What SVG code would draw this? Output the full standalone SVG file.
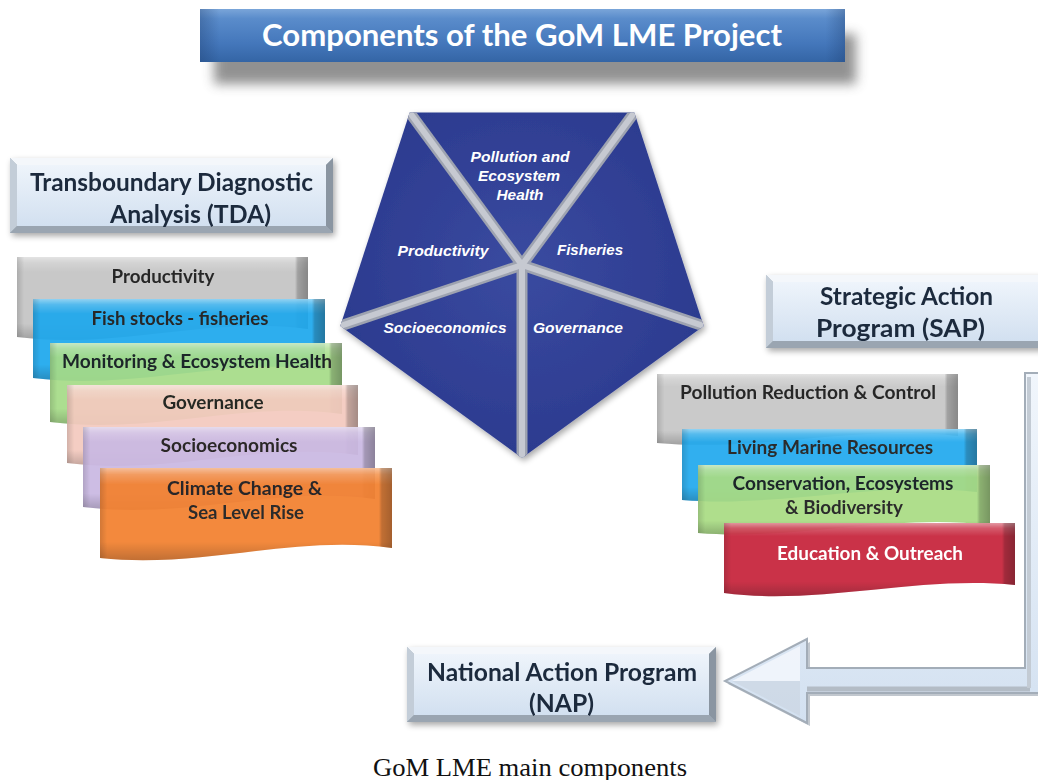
<svg xmlns="http://www.w3.org/2000/svg" xmlns:xlink="http://www.w3.org/1999/xlink" width="1038" height="780" viewBox="0 0 1038 780">
  <style>
    .lbl { font-family: Lato, "Open Sans", "Liberation Sans", sans-serif; font-weight: 700; fill: #1b1b1b; }
    .box-lbl { font-family: Lato, "Open Sans", "Liberation Sans", sans-serif; font-weight: 700; fill: #1c2a3c; font-size: 25px; }
    .pent-lbl { font-family: "Liberation Sans", Arial, sans-serif; font-weight: 700; font-style: italic; fill: #ffffff; font-size: 14px; text-anchor: middle; }
    .caption { font-family: "Liberation Serif", "Times New Roman", serif; font-size: 26px; fill: #111111; }
    .divider-back { stroke: #9ea3b0; stroke-width: 11; }
    .divider-front { stroke: #c6c9d1; stroke-width: 6; }
  </style>
  <defs>
    <linearGradient id="titleGrad" x1="0" y1="0" x2="0" y2="1">
      <stop offset="0" stop-color="#7aa5d9"/>
      <stop offset="0.18" stop-color="#5a8ccb"/>
      <stop offset="0.65" stop-color="#4477bb"/>
      <stop offset="1" stop-color="#3465a5"/>
    </linearGradient>
    <linearGradient id="titleEdge" x1="0" y1="0" x2="1" y2="0">
      <stop offset="0" stop-color="#1f3f70" stop-opacity="0.35"/>
      <stop offset="0.03" stop-color="#1f3f70" stop-opacity="0"/>
      <stop offset="0.97" stop-color="#1f3f70" stop-opacity="0"/>
      <stop offset="1" stop-color="#1f3f70" stop-opacity="0.35"/>
    </linearGradient>
    <linearGradient id="faceGrad" x1="0" y1="0" x2="0" y2="1">
      <stop offset="0" stop-color="#eef4fb"/>
      <stop offset="1" stop-color="#d2e0f0"/>
    </linearGradient>
    <radialGradient id="pentGrad" cx="522" cy="267" r="200" gradientUnits="userSpaceOnUse">
      <stop offset="0" stop-color="#3a4aa0"/>
      <stop offset="1" stop-color="#2b3a8e"/>
    </radialGradient>
    <linearGradient id="shadeV" x1="0" y1="0" x2="0" y2="1">
      <stop offset="0" stop-color="#ffffff" stop-opacity="0.5"/>
      <stop offset="0.07" stop-color="#ffffff" stop-opacity="0.2"/>
      <stop offset="0.18" stop-color="#ffffff" stop-opacity="0"/>
      <stop offset="0.8" stop-color="#000000" stop-opacity="0"/>
      <stop offset="1" stop-color="#000000" stop-opacity="0.22"/>
    </linearGradient>
    <linearGradient id="shadeH" x1="0" y1="0" x2="1" y2="0">
      <stop offset="0" stop-color="#000000" stop-opacity="0.15"/>
      <stop offset="0.025" stop-color="#000000" stop-opacity="0"/>
      <stop offset="0.955" stop-color="#000000" stop-opacity="0"/>
      <stop offset="0.965" stop-color="#000000" stop-opacity="0.22"/>
      <stop offset="1" stop-color="#000000" stop-opacity="0.35"/>
    </linearGradient>
    <linearGradient id="arrowGrad" x1="0" y1="0" x2="0" y2="1">
      <stop offset="0" stop-color="#f1f6fc"/>
      <stop offset="1" stop-color="#d3e1f1"/>
    </linearGradient>
    <filter id="blurShadow" x="-10%" y="-50%" width="120%" height="200%">
      <feGaussianBlur stdDeviation="6"/>
    </filter>
    <filter id="softShadow" x="-10%" y="-10%" width="125%" height="130%">
      <feGaussianBlur in="SourceAlpha" stdDeviation="3"/>
      <feOffset dx="2" dy="3" result="b"/>
      <feComponentTransfer><feFuncA type="linear" slope="0.35"/></feComponentTransfer>
      <feMerge><feMergeNode/><feMergeNode in="SourceGraphic"/></feMerge>
    </filter>
    <clipPath id="pentClip">
      <polygon points="409.7,112.5 634.3,112.5 703.7,326 522,458 340.3,326"/>
    </clipPath>

    <!-- ribbon outlines: straight top, waving lower edge -->
    <path id="r1" d="M17,257 H308 V329 C210,315 120,350 17,337 Z"/>
    <path id="r2" d="M33,299 H325 V370 C227,356 137,391 33,378 Z"/>
    <path id="r3" d="M50,343 H342 V414 C244,400 154,435 50,422 Z"/>
    <path id="r4" d="M67,385 H358 V455 C260,441 170,476 67,463 Z"/>
    <path id="r5" d="M83,427 H375 V499 C277,485 187,520 83,507 Z"/>
    <path id="r6" d="M100,468 H392 V548 C294,534 204,569 100,558 Z"/>
    <path id="r7" d="M657,374 H958 V436 C860,424 760,452 657,443 Z"/>
    <path id="r8" d="M682,429 H977 V492 C880,480 780,508 682,500 Z"/>
    <path id="r9" d="M698,465 H990 V525 C893,513 793,541 698,533 Z"/>
    <path id="r10" d="M724,523 H1015 V585 C918,575 818,606 724,593 Z"/>
  </defs>

  <rect width="1038" height="780" fill="#ffffff"/>

  <!-- title banner with its cast shadow -->
  <g id="title">
    <rect x="214" y="34" width="642" height="50" fill="#4a4a4a" opacity="0.6" filter="url(#blurShadow)"/>
    <rect x="200" y="9" width="645" height="53" fill="url(#titleGrad)"/>
    <rect x="200" y="9" width="645" height="53" fill="url(#titleEdge)"/>
    <text x="522" y="46" text-anchor="middle" font-family="Lato, 'Open Sans', 'Liberation Sans', sans-serif" font-weight="700" font-size="30" fill="#ffffff" textLength="520" lengthAdjust="spacingAndGlyphs">Components of the GoM LME Project</text>
  </g>

  <!-- TDA heading box -->
  <g id="tda" filter="url(#softShadow)">
    <rect x="10" y="158" width="323" height="75" fill="#a3aeba"/>
    <polygon points="10,158 333,158 326,165 17,165" fill="#f4f7fb"/>
    <polygon points="10,158 17,165 17,226 10,233" fill="#c3cdd8"/>
    <polygon points="333,158 333,233 326,226 326,165" fill="#8a95a1"/>
    <polygon points="10,233 333,233 326,226 17,226" fill="#9aa5b1"/>
    <rect x="17" y="165" width="309" height="61" fill="url(#faceGrad)"/>
    <text class="box-lbl" x="30" y="191" textLength="283" lengthAdjust="spacingAndGlyphs">Transboundary Diagnostic</text>
    <text class="box-lbl" x="110" y="223" textLength="161" lengthAdjust="spacingAndGlyphs">Analysis (TDA)</text>
  </g>

  <!-- SAP heading box -->
  <g id="sap" filter="url(#softShadow)">
    <rect x="766" y="275" width="282" height="73" fill="#a3aeba"/>
    <polygon points="766,275 1048,275 1041,282 773,282" fill="#f4f7fb"/>
    <polygon points="766,275 773,282 773,341 766,348" fill="#c3cdd8"/>
    <polygon points="766,348 1048,348 1041,341 773,341" fill="#9aa5b1"/>
    <rect x="773" y="282" width="270" height="59" fill="url(#faceGrad)"/>
    <text class="box-lbl" x="820" y="305" textLength="173" lengthAdjust="spacingAndGlyphs">Strategic Action</text>
    <text class="box-lbl" x="816" y="337" textLength="169" lengthAdjust="spacingAndGlyphs">Program (SAP)</text>
  </g>

  <!-- NAP heading box -->
  <g id="nap" filter="url(#softShadow)">
    <rect x="407" y="647" width="309" height="75" fill="#a3aeba"/>
    <polygon points="407,647 716,647 709,654 414,654" fill="#f4f7fb"/>
    <polygon points="407,647 414,654 414,715 407,722" fill="#c3cdd8"/>
    <polygon points="716,647 716,722 709,715 709,654" fill="#8a95a1"/>
    <polygon points="407,722 716,722 709,715 414,715" fill="#9aa5b1"/>
    <rect x="414" y="654" width="295" height="61" fill="url(#faceGrad)"/>
    <text class="box-lbl" x="427" y="681" textLength="270" lengthAdjust="spacingAndGlyphs">National Action Program</text>
    <text class="box-lbl" x="529" y="712" textLength="65" lengthAdjust="spacingAndGlyphs">(NAP)</text>
  </g>

  <!-- central pentagon of the five themes -->
  <g id="pentagon">
    <polygon points="409.7,112.5 634.3,112.5 703.7,326 522,458 340.3,326" fill="url(#pentGrad)" filter="url(#softShadow)"/>
    <g clip-path="url(#pentClip)">
      <line class="divider-back" x1="522" y1="265" x2="409.7" y2="112.5"/>
      <line class="divider-back" x1="522" y1="265" x2="634.3" y2="112.5"/>
      <line class="divider-back" x1="522" y1="265" x2="703.7" y2="326"/>
      <line class="divider-back" x1="522" y1="265" x2="522" y2="458"/>
      <line class="divider-back" x1="522" y1="265" x2="340.3" y2="326"/>
      <line class="divider-front" x1="522" y1="265" x2="409.7" y2="112.5"/>
      <line class="divider-front" x1="522" y1="265" x2="634.3" y2="112.5"/>
      <line class="divider-front" x1="522" y1="265" x2="703.7" y2="326"/>
      <line class="divider-front" x1="522" y1="265" x2="522" y2="458"/>
      <line class="divider-front" x1="522" y1="265" x2="340.3" y2="326"/>
    </g>
    <text class="pent-lbl" x="520" y="162" textLength="99" lengthAdjust="spacingAndGlyphs">Pollution and</text>
    <text class="pent-lbl" x="519" y="181" textLength="82" lengthAdjust="spacingAndGlyphs">Ecosystem</text>
    <text class="pent-lbl" x="520" y="200" textLength="47" lengthAdjust="spacingAndGlyphs">Health</text>
    <text class="pent-lbl" x="443" y="256" textLength="91" lengthAdjust="spacingAndGlyphs">Productivity</text>
    <text class="pent-lbl" x="590" y="255" textLength="66" lengthAdjust="spacingAndGlyphs">Fisheries</text>
    <text class="pent-lbl" x="445" y="333" textLength="123" lengthAdjust="spacingAndGlyphs">Socioeconomics</text>
    <text class="pent-lbl" x="578" y="333" textLength="90" lengthAdjust="spacingAndGlyphs">Governance</text>
  </g>

  <!-- TDA component ribbons -->
  <g id="tda-productivity" opacity="0.95">
    <use href="#r1" fill="#c6c6c6"/><use href="#r1" fill="url(#shadeV)"/><use href="#r1" fill="url(#shadeH)"/>
    <text class="lbl" x="163" y="283" font-size="19" text-anchor="middle" textLength="103" lengthAdjust="spacingAndGlyphs">Productivity</text>
  </g>
  <g id="tda-fish" opacity="0.93">
    <use href="#r2" fill="#1ea8ed"/><use href="#r2" fill="url(#shadeV)"/><use href="#r2" fill="url(#shadeH)"/>
    <text class="lbl" x="180" y="325" font-size="19" text-anchor="middle" textLength="177" lengthAdjust="spacingAndGlyphs">Fish stocks - fisheries</text>
  </g>
  <g id="tda-monitoring" opacity="0.93">
    <use href="#r3" fill="#a6dc88"/><use href="#r3" fill="url(#shadeV)"/><use href="#r3" fill="url(#shadeH)"/>
    <text class="lbl" x="197" y="368" font-size="19" text-anchor="middle" textLength="270" lengthAdjust="spacingAndGlyphs">Monitoring &amp; Ecosystem Health</text>
  </g>
  <g id="tda-governance" opacity="0.93">
    <use href="#r4" fill="#f4cabf"/><use href="#r4" fill="url(#shadeV)"/><use href="#r4" fill="url(#shadeH)"/>
    <text class="lbl" x="213" y="409" font-size="19" text-anchor="middle" textLength="101" lengthAdjust="spacingAndGlyphs">Governance</text>
  </g>
  <g id="tda-socioeconomics" opacity="0.93">
    <use href="#r5" fill="#cab9e3"/><use href="#r5" fill="url(#shadeV)"/><use href="#r5" fill="url(#shadeH)"/>
    <text class="lbl" x="229" y="452" font-size="19" text-anchor="middle" textLength="137" lengthAdjust="spacingAndGlyphs">Socioeconomics</text>
  </g>
  <g id="tda-climate" opacity="0.93">
    <use href="#r6" fill="#f3812f"/><use href="#r6" fill="url(#shadeV)"/><use href="#r6" fill="url(#shadeH)"/>
    <text class="lbl" x="167" y="495" font-size="19" textLength="155" lengthAdjust="spacingAndGlyphs">Climate Change  &amp;</text>
    <text class="lbl" x="246" y="519" font-size="19" text-anchor="middle" textLength="116" lengthAdjust="spacingAndGlyphs">Sea Level Rise</text>
  </g>

  <!-- SAP component ribbons -->
  <g id="sap-pollution" opacity="0.95">
    <use href="#r7" fill="#c8c8c8"/><use href="#r7" fill="url(#shadeV)"/><use href="#r7" fill="url(#shadeH)"/>
    <text class="lbl" x="808" y="399" font-size="19" text-anchor="middle" textLength="256" lengthAdjust="spacingAndGlyphs">Pollution Reduction &amp; Control</text>
  </g>
  <g id="sap-living" opacity="0.93">
    <use href="#r8" fill="#22aaee"/><use href="#r8" fill="url(#shadeV)"/><use href="#r8" fill="url(#shadeH)"/>
    <text class="lbl" x="830" y="454" font-size="19" text-anchor="middle" textLength="206" lengthAdjust="spacingAndGlyphs">Living Marine Resources</text>
  </g>
  <g id="sap-conservation" opacity="0.93">
    <use href="#r9" fill="#a9dc84"/><use href="#r9" fill="url(#shadeV)"/><use href="#r9" fill="url(#shadeH)"/>
    <text class="lbl" x="843" y="490" font-size="19" text-anchor="middle" textLength="221" lengthAdjust="spacingAndGlyphs">Conservation, Ecosystems</text>
    <text class="lbl" x="844" y="514" font-size="19" text-anchor="middle" textLength="118" lengthAdjust="spacingAndGlyphs">&amp; Biodiversity</text>
  </g>
  <g id="sap-education" opacity="0.95">
    <use href="#r10" fill="#c8283f"/><use href="#r10" fill="url(#shadeV)"/><use href="#r10" fill="url(#shadeH)"/>
    <text class="lbl" x="870" y="560" font-size="19" text-anchor="middle" style="fill:#ffffff" textLength="186" lengthAdjust="spacingAndGlyphs">Education &amp; Outreach</text>
  </g>

  <!-- connector: bent arrow from the SAP column down and back to the NAP box -->
  <g id="connectors">
    <polygon points="1028,376 1050,376 1050,696 810,696 810,726 728,684 810,642 810,671 1028,671" fill="#8e99a6" opacity="0.55"/>
    <polygon points="1025,373 1048,373 1048,693 807,693 807,723 725,681 807,639 807,668 1025,668" fill="url(#arrowGrad)" stroke="#a3adb8" stroke-width="2" stroke-linejoin="miter"/>
    <polygon points="732,681 800,646 800,681" fill="#f5f8fc" opacity="0.8"/>
    <polygon points="732,681 800,716 800,681" fill="#c9d4e0" opacity="0.6"/>
    <line x1="807" y1="689" x2="1030" y2="689" stroke="#b3bcc6" stroke-width="5"/>
    <line x1="1029" y1="377" x2="1029" y2="688" stroke="#c3cbd4" stroke-width="4"/>
  </g>

  <text class="caption" x="373" y="776" textLength="314" lengthAdjust="spacingAndGlyphs">GoM LME main components</text>
</svg>
